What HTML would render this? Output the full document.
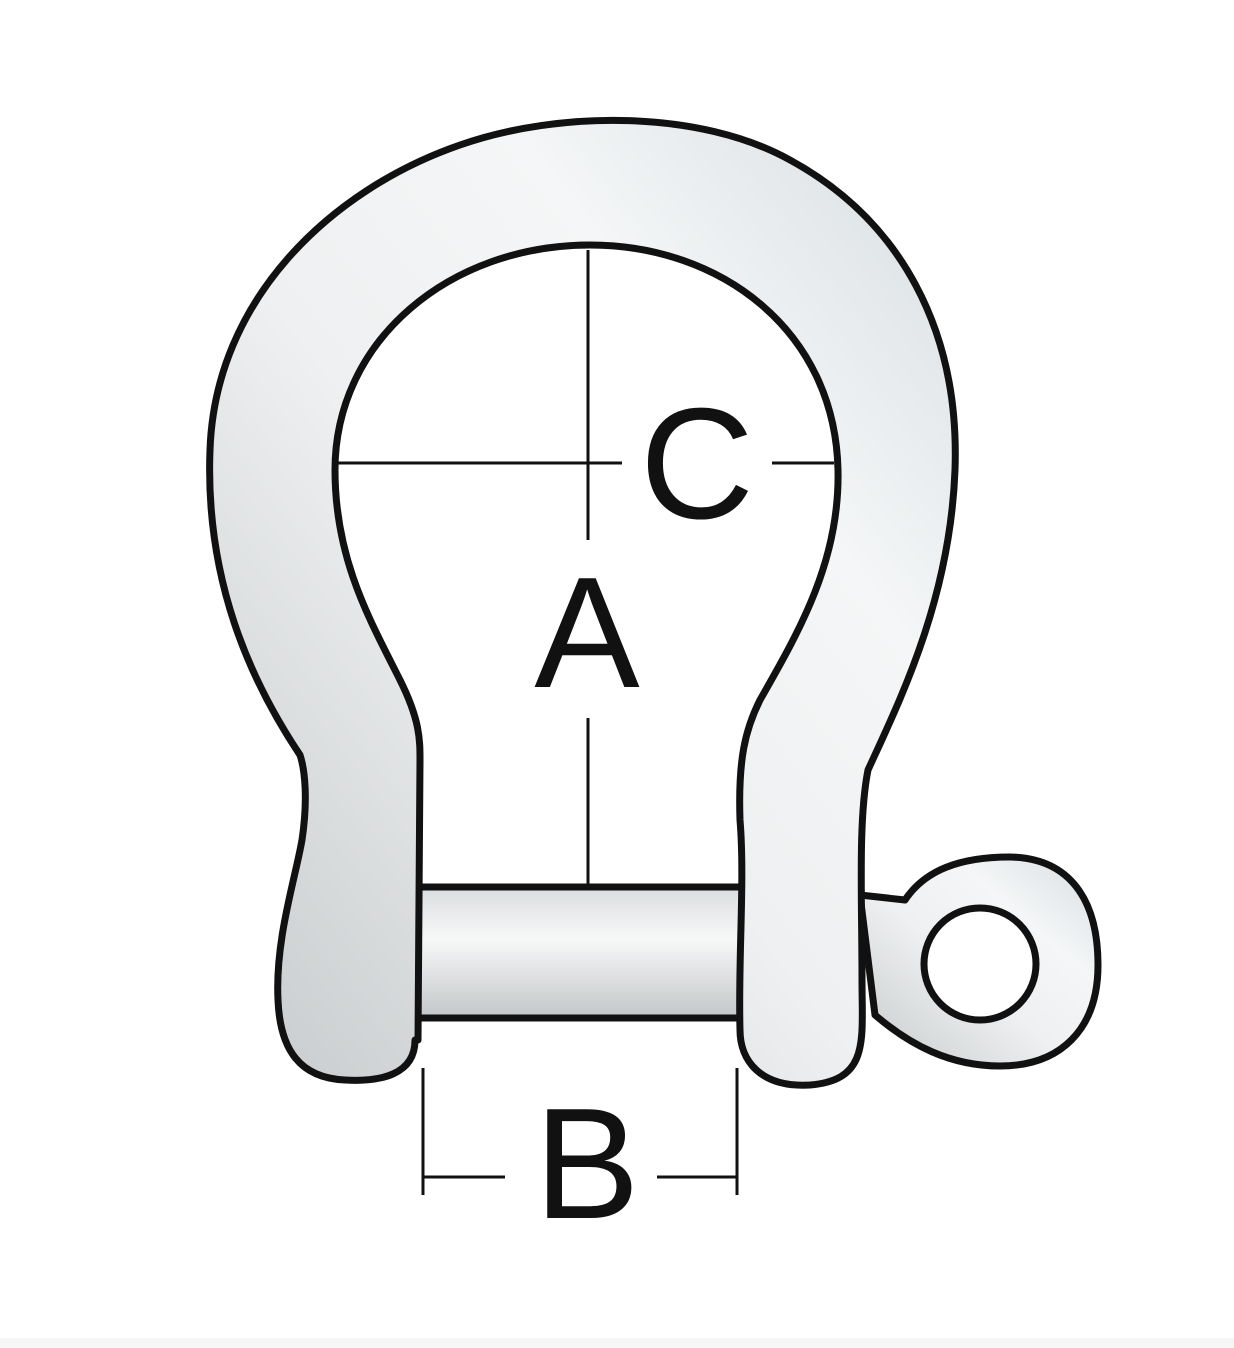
<!DOCTYPE html>
<html><head><style>html,body{margin:0;padding:0;background:#fff;}svg{display:block}</style></head>
<body>
<svg width="1234" height="1348" viewBox="0 0 1234 1348" xmlns="http://www.w3.org/2000/svg">
<defs>
<linearGradient id="g" x1="0" y1="1" x2="1" y2="0">
<stop offset="0" stop-color="#c6c9cb"/><stop offset="0.45" stop-color="#eef0f1"/><stop offset="0.7" stop-color="#f4f6f7"/><stop offset="1" stop-color="#d7dde1"/>
</linearGradient>
<linearGradient id="p" x1="0" y1="0" x2="0" y2="1">
<stop offset="0" stop-color="#dadddf"/><stop offset="0.4" stop-color="#f7f8f8"/><stop offset="1" stop-color="#c3c6c8"/>
</linearGradient>
</defs>
<rect x="0" y="1338" width="1234" height="10" fill="#f6f6f6"/>
<!-- eye -->
<path d="M860,895 L905,900 C925,870 960,857 1010,857 C1070,858 1098,900 1098,965 C1098,1030 1060,1066 1000,1066 C950,1066 910,1045 875,1015 Z" fill="url(#g)" stroke="#111" stroke-width="7" stroke-linejoin="round"/>
<circle cx="980" cy="964" r="56" fill="#fff" stroke="#111" stroke-width="7"/>
<!-- pin -->
<rect x="400" y="887" width="360" height="131" fill="url(#p)" stroke="#111" stroke-width="7"/>
<!-- shackle -->
<path d="M415,1040 C415,1075 380,1082 345,1080 C300,1078 280,1050 278,1000 C275,940 295,880 302,840 C308,800 305,770 300,755 C250,680 205,580 210,450 C215,300 330,190 460,145 C560,110 700,110 790,160 C900,220 960,330 955,470 C950,600 900,700 868,770 C858,820 862,900 862,980 C862,1040 870,1080 810,1085 C760,1088 740,1060 740,1030 C738,960 745,880 740,820 C738,760 745,730 760,700 C800,630 840,560 838,470 C835,330 720,245 590,245 C450,245 335,340 335,470 C335,560 370,620 400,680 C420,720 420,740 420,760 L418,1040 Z" fill="url(#g)" stroke="#111" stroke-width="7" stroke-linejoin="round"/>
<!-- dimension lines -->
<g stroke="#111" stroke-width="3" fill="none">
<line x1="588" y1="250" x2="588" y2="540"/>
<line x1="588" y1="718" x2="588" y2="886"/>
<line x1="338" y1="463" x2="622" y2="463"/>
<line x1="772" y1="463" x2="834" y2="463"/>
<line x1="423" y1="1068" x2="423" y2="1195"/>
<line x1="737" y1="1068" x2="737" y2="1195"/>
<line x1="423" y1="1177" x2="505" y2="1177"/>
<line x1="657" y1="1177" x2="737" y2="1177"/>
</g>
<g font-family="Liberation Sans, sans-serif" fill="#111" text-anchor="middle" font-size="158">
<text x="697" y="518">C</text>
<text x="587" y="687">A</text>
<text x="587" y="1218">B</text>
</g>
</svg>
</body></html>
